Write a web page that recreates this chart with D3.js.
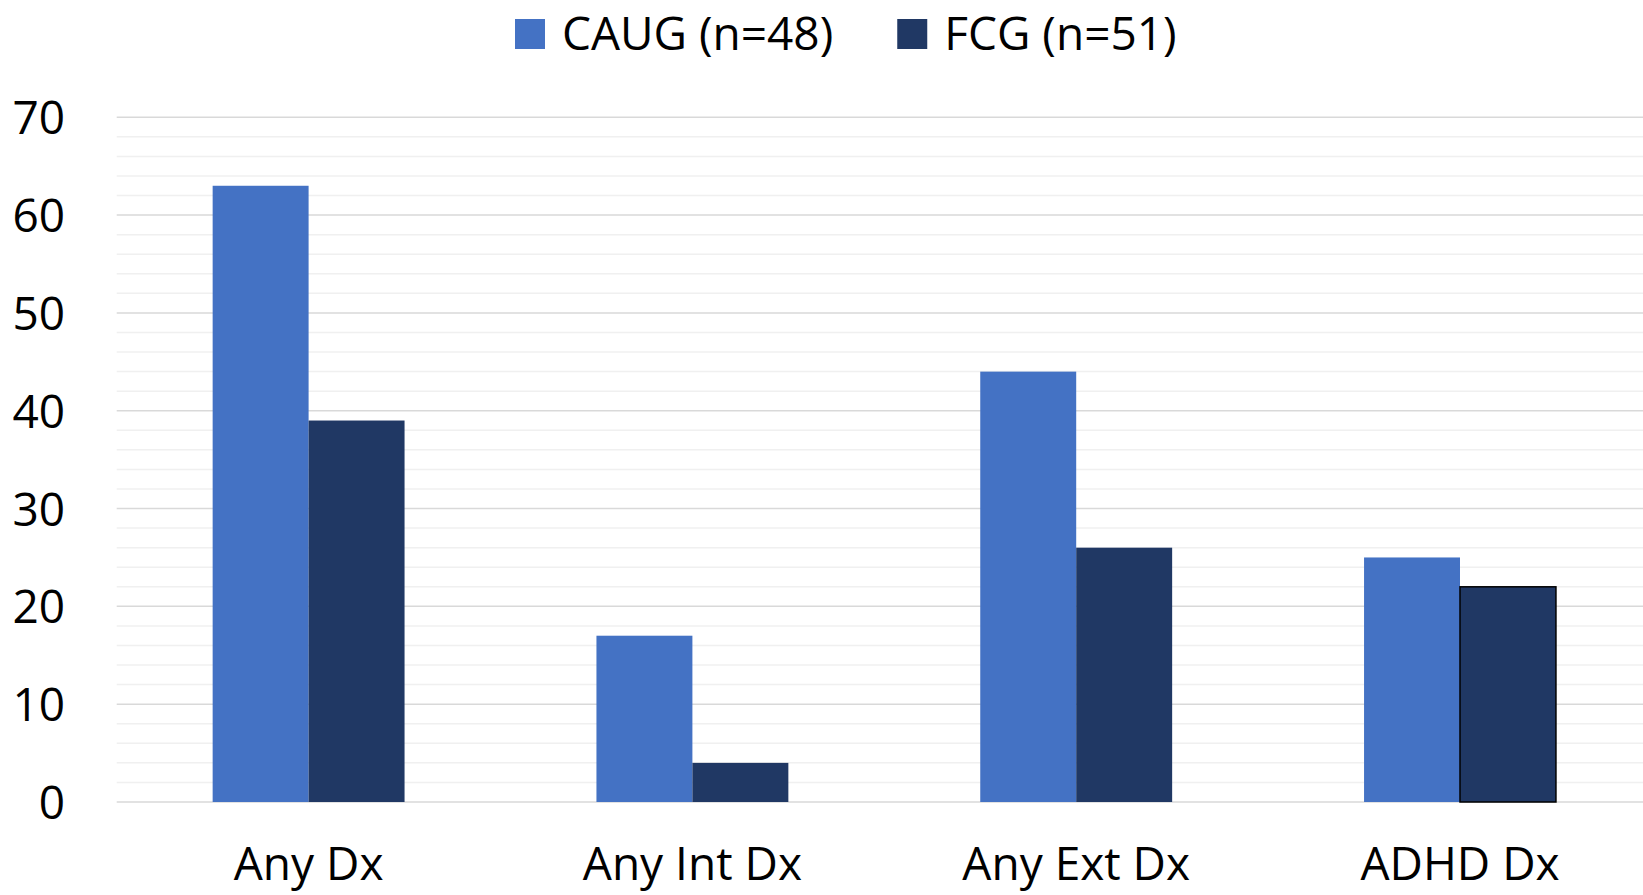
<!DOCTYPE html>
<html>
<head>
<meta charset="utf-8">
<script src="https://cdn.jsdelivr.net/npm/d3@7"></script>
<style>
  html, body { margin: 0; padding: 0; background: #fff; }
  svg { display: block; }
  text { font-family: "Open Sans", sans-serif; fill: #000; }
</style>
</head>
<body>
<svg id="chart" width="1643" height="895"></svg>
<script>
const categories = ["Any Dx", "Any Int Dx", "Any Ext Dx", "ADHD Dx"];
const seriesNames = ["CAUG (n=48)", "FCG (n=51)"];
const caugValues = [63, 17, 44, 25];
const fcgValues = [39, 4, 26, 22];
const yTicks = [0, 10, 20, 30, 40, 50, 60, 70];
const colors = ["#4472C4", "#203864"];

(function () {
const W = 1643, H = 895;
const plotLeft = 116.7, plotTop = 117.3, plotBottom = 802;
const step = 383.8;
const svg = d3.select("#chart");

const y = d3.scaleLinear().domain([0, 70]).range([plotBottom, plotTop]);
const x = d3.scaleBand().domain(categories).range([plotLeft, plotLeft + 4 * step]).paddingInner(0.5).paddingOuter(0.25);
const xs = d3.scaleBand().domain(seriesNames).range([0, x.bandwidth()]);

// minor gridlines
const minor = d3.range(0, 71, 2).filter(v => v % 10 !== 0);
svg.append("g").selectAll("line").data(minor).join("line")
  .attr("x1", plotLeft).attr("x2", W)
  .attr("y1", d => y(d)).attr("y2", d => y(d))
  .attr("stroke", "#f0f0f0").attr("stroke-width", 1.5);

// major gridlines
svg.append("g").selectAll("line").data(yTicks).join("line")
  .attr("x1", plotLeft).attr("x2", W)
  .attr("y1", d => y(d)).attr("y2", d => y(d))
  .attr("stroke", "#d9d9d9").attr("stroke-width", 1.5);

// y axis labels
const yAxis = d3.axisLeft(y).tickValues(yTicks).tickSize(0).tickPadding(0);
const yg = svg.append("g").attr("transform", "translate(65,0)").call(yAxis);
yg.select(".domain").remove();
yg.selectAll("text").attr("font-size", 46).attr("font-family", "'Open Sans', sans-serif")
  .attr("fill", "#000").attr("dy", "0.36em").attr("x", 0);

// bars
const data = categories.map((c, i) => ({ cat: c, vals: [
  { s: seriesNames[0], v: caugValues[i], ci: 0 },
  { s: seriesNames[1], v: fcgValues[i], ci: 1 }
]}));
const groups = svg.append("g").selectAll("g").data(data).join("g")
  .attr("transform", d => `translate(${x(d.cat)},0)`);
groups.selectAll("rect").data(d => d.vals.map(v => Object.assign({ cat: d.cat }, v))).join("rect")
  .attr("x", d => xs(d.s))
  .attr("y", d => y(d.v))
  .attr("width", xs.bandwidth())
  .attr("height", d => y(0) - y(d.v))
  .attr("fill", d => colors[d.ci])
  .attr("stroke", d => (d.cat === "ADHD Dx" && d.ci === 1) ? "#000" : "none")
  .attr("stroke-width", 1.5);

// x axis labels
const xAxis = d3.axisBottom(x).tickSize(0).tickPadding(0);
const xg = svg.append("g").attr("transform", "translate(0,880)").call(xAxis);
xg.select(".domain").remove();
xg.selectAll("text").attr("font-size", 46).attr("font-family", "'Open Sans', sans-serif")
  .attr("fill", "#000").attr("dy", 0).attr("y", 0);

// legend
const legend = svg.append("g");
let lx = 515;
seriesNames.forEach((s, i) => {
  legend.append("rect").attr("x", lx).attr("y", 19).attr("width", 30).attr("height", 30).attr("fill", colors[i]);
  const t = legend.append("text").attr("x", lx + 47).attr("y", 50).attr("font-size", 46).text(s);
  const w = t.node().getComputedTextLength();
  lx = lx + 47 + w + 64;
});
})();
</script>
</body>
</html>
